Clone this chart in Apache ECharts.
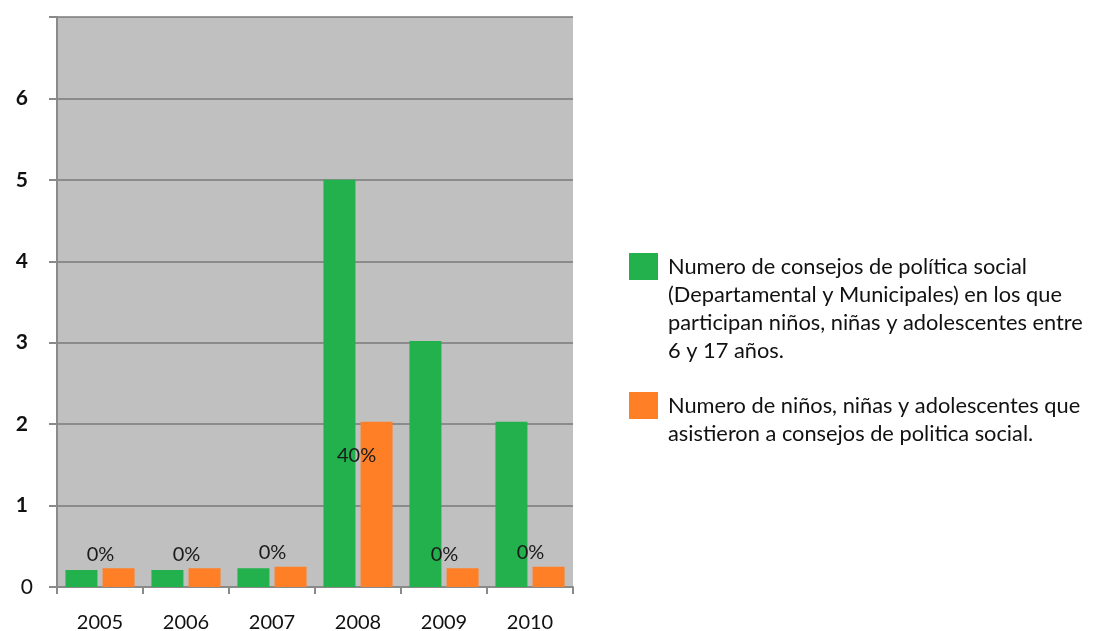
<!DOCTYPE html>
<html>
<head>
<meta charset="utf-8">
<script src="https://cdn.jsdelivr.net/npm/echarts@6/dist/echarts.min.js"></script>
<style>
  html, body { margin: 0; padding: 0; background: #fff; }
  #chart { width: 1097px; height: 631px; }
</style>
</head>
<body>
<div id="chart"></div>
<script>
// datos
const years = ["2005", "2006", "2007", "2008", "2009", "2010"];
const consejos = [0.21, 0.21, 0.23, 5, 3.02, 2.03];
const asistentes = [0.23, 0.23, 0.25, 2.03, 0.23, 0.25];
const pctLabels = ["0%", "0%", "0%", "40%", "0%", "0%"];
const nameConsejos = "Numero de consejos de política social (Departamental y Municipales) en los que participan niños, niñas y adolescentes entre 6 y 17 años.";
const nameAsistentes = "Numero de niños, niñas y adolescentes que asistieron a consejos de politica social.";
const linesConsejos = [
  "Numero de consejos de política social",
  "(Departamental y Municipales) en los que",
  "participan niños, niñas y adolescentes entre",
  "6 y 17 años."
];
const linesAsistentes = [
  "Numero de niños, niñas y adolescentes que",
  "asistieron a consejos de politica social."
];

const FONT = "Lato";
const LH = 28;
const ICON_W = 29;
const ICON_H = 27;

// el icono queda arriba, alineado con la primera linea del texto
function legendFor(name, lines, iconTop) {
  const h = lines.length * LH;
  const off = (LH - ICON_H) / 2;
  return {
    data: [name],
    orient: "vertical",
    left: 629,
    top: iconTop - off,
    padding: 0,
    icon: "path://M0," + off + "H" + ICON_W + "V" + (off + ICON_H) + "H0Z M0,0L0,0 M0," + h + "L0," + h,
    itemWidth: ICON_W,
    itemHeight: h,
    selectedMode: false,
    formatter: () => lines.join("\n"),
    textStyle: {
      fontFamily: FONT,
      fontSize: 21.8,
      color: "#111",
      lineHeight: LH,
      padding: [0, 0, 0, 5],
    },
  };
}

const chart = echarts.init(document.getElementById("chart"));
const option = {
  animation: false,
  backgroundColor: "#fff",
  grid: {
    left: 57,
    right: 524,
    top: 17,
    bottom: 44,
    outerBoundsMode: "none",
    show: true,
    backgroundColor: "#c0c0c0",
    borderWidth: 0,
  },
  legend: [
    legendFor(nameConsejos, linesConsejos, 253),
    legendFor(nameAsistentes, linesAsistentes, 392),
  ],
  xAxis: {
    type: "category",
    data: years,
    axisLine: { lineStyle: { color: "#8a8a8a", width: 2 } },
    axisTick: { show: true, length: 7, lineStyle: { color: "#8a8a8a", width: 2 } },
    axisLabel: {
      margin: 26,
      fontFamily: FONT,
      fontSize: 20,
      color: "#111",
    },
  },
  yAxis: {
    type: "value",
    min: 0,
    max: 7,
    interval: 1,
    axisLine: { show: true, lineStyle: { color: "#8a8a8a", width: 2 } },
    axisTick: { show: true, length: 8, lineStyle: { color: "#8a8a8a", width: 2 } },
    splitLine: { lineStyle: { color: "#7a7a7a", width: 1.5 } },
    axisLabel: {
      margin: 24,
      fontFamily: FONT,
      fontSize: 20,
      color: "#111",
      formatter: (v) => (v === 7 ? "" : v === 0 ? "{r|0}" : "{b|" + v + "}"),
      rich: {
        b: { fontFamily: FONT, fontSize: 21, fontWeight: "bold", color: "#111", padding: [0, 5, 0, 0] },
        r: { fontFamily: FONT, fontSize: 21, color: "#111" },
      },
    },
  },
  series: [
    {
      name: nameConsejos,
      type: "bar",
      data: consejos,
      barWidth: 32,
      barGap: "16%",
      itemStyle: { color: "#22b14c" },
    },
    {
      name: nameAsistentes,
      type: "bar",
      data: asistentes.map((v) => ({
        value: v,
        label: v > 1
          ? { position: "insideTop", offset: [-20, 20] }
          : { position: "top", offset: [-18, 0] },
      })),
      barWidth: 32,
      barGap: "16%",
      itemStyle: { color: "#ff7f27" },
      label: {
        show: true,
        fontFamily: FONT,
        fontSize: 20,
        color: "#1a1a1a",
        distance: 4,
        formatter: (p) => pctLabels[p.dataIndex],
      },
    },
  ],
};
chart.setOption(option);
</script>
</body>
</html>
